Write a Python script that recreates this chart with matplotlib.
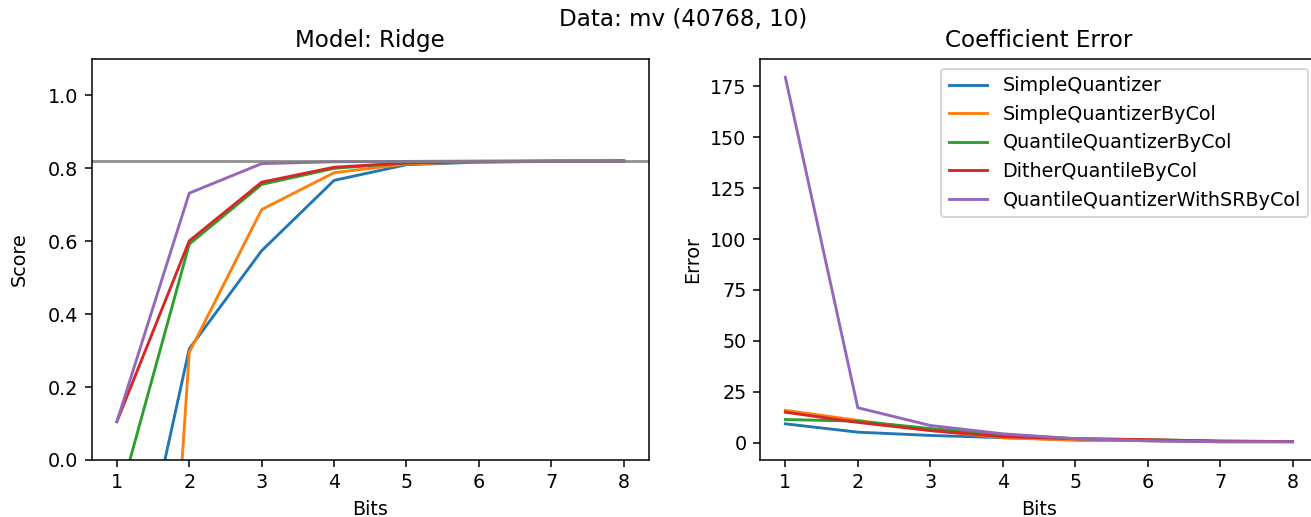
import numpy as np
import matplotlib
matplotlib.use("Agg")
import matplotlib.pyplot as plt

# Bits used for quantization
bits = [1, 2, 3, 4, 5, 6, 7, 8]

methods = [
    "SimpleQuantizer",
    "SimpleQuantizerByCol",
    "QuantileQuantizerByCol",
    "DitherQuantileByCol",
    "QuantileQuantizerWithSRByCol",
]

# Ridge score per method
score_simple = [-0.60, 0.305, 0.574, 0.767, 0.810, 0.817, 0.819, 0.820]
score_simple_col = [-2.70, 0.295, 0.687, 0.788, 0.812, 0.818, 0.819, 0.820]
score_quantile_col = [-0.13, 0.592, 0.756, 0.800, 0.815, 0.818, 0.820, 0.820]
score_dither_col = [0.105, 0.601, 0.762, 0.803, 0.815, 0.819, 0.820, 0.820]
score_quantile_sr = [0.105, 0.732, 0.813, 0.818, 0.819, 0.820, 0.820, 0.820]
baseline_score = 0.82

# Coefficient error per method
err_simple = [9.3, 5.2, 3.6, 2.5, 1.5, 1.0, 0.5, 0.5]
err_simple_col = [15.9, 11.0, 6.0, 2.5, 1.2, 1.0, 0.7, 0.5]
err_quantile_col = [11.4, 10.6, 7.0, 4.0, 2.0, 1.5, 0.8, 0.6]
err_dither_col = [15.0, 10.0, 6.0, 3.0, 2.0, 1.5, 0.8, 0.6]
err_quantile_sr = [179.4, 17.2, 8.5, 4.4, 2.0, 1.0, 0.5, 0.5]

scores = [score_simple, score_simple_col, score_quantile_col, score_dither_col, score_quantile_sr]
errors = [err_simple, err_simple_col, err_quantile_col, err_dither_col, err_quantile_sr]

fig = plt.figure(figsize=(1311 / 138, 517 / 138), dpi=138)
ax1 = fig.add_axes([0.0698, 0.1103, 0.4253, 0.7756])
ax2 = fig.add_axes([0.5797, 0.1103, 0.4256, 0.7756])

# Score plot
for name, s in zip(methods, scores):
    ax1.plot(bits, s, label=name)
ax1.axhline(baseline_score, color="gray", alpha=0.85)
ax1.set_ylim(0, 1.1)
ax1.set_xlabel("Bits")
ax1.set_ylabel("Score", labelpad=10)
ax1.set_title("Model: Ridge")

# Error plot
for name, e in zip(methods, errors):
    ax2.plot(bits, e, label=name)
ax2.set_xlabel("Bits")
ax2.set_ylabel("Error")
ax2.set_title("Coefficient Error")
ax2.legend(loc="upper right")

fig.suptitle("Data: mv (40768, 10)", x=683 / 1311, y=0.985, va="top", fontsize=12)

fig.savefig("out.png", dpi=138)
